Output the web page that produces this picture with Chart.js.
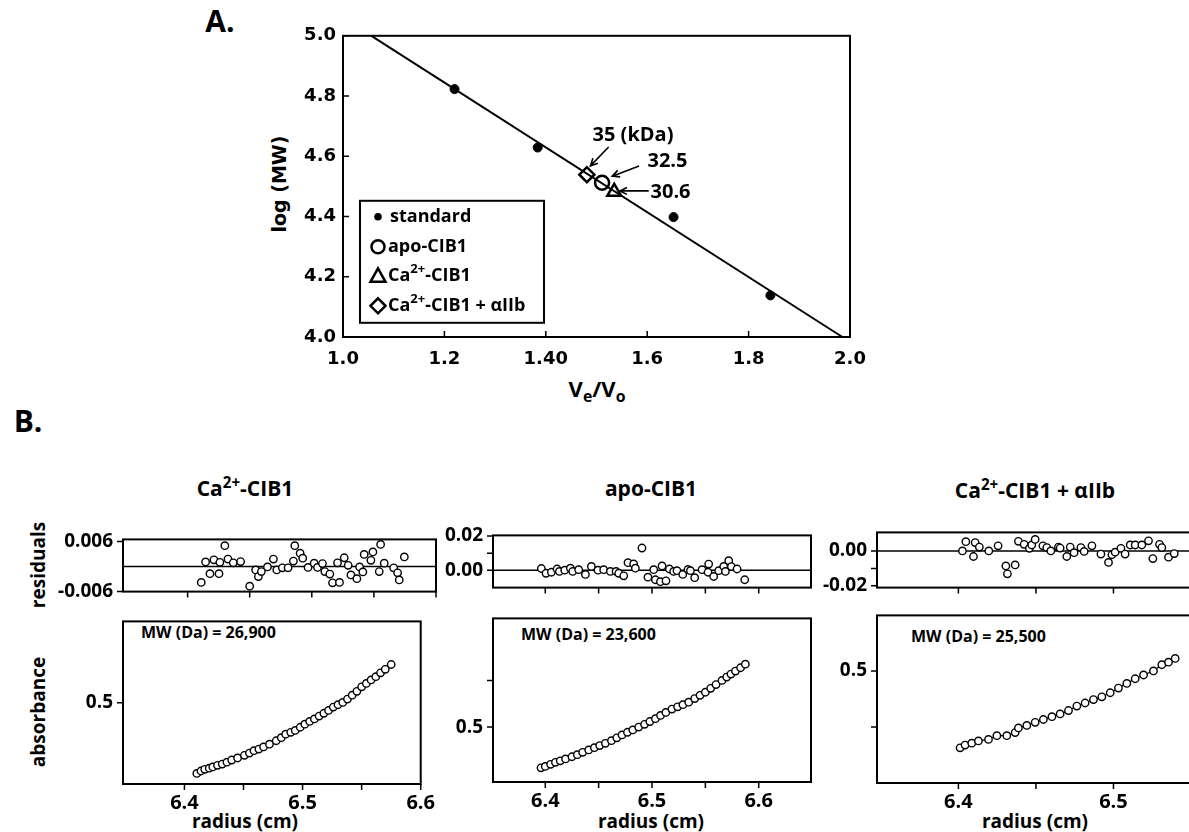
<!DOCTYPE html>
<html lang="en">
<head>
<meta charset="UTF-8">
<title>CIB1 gel filtration and sedimentation equilibrium</title>
<script src="https://cdn.jsdelivr.net/npm/chart.js"></script>
<style>
  html, body { margin: 0; padding: 0; background: #fff; }
  body { width: 1189px; height: 832px; overflow: hidden; position: relative;
         font-family: "Open Sans", sans-serif; font-weight: bold; color: #000; }
  canvas { position: absolute; }
  .txt { position: absolute; white-space: nowrap; transform: translate(-50%, -50%); line-height: 1; }
  .rot { transform: translate(-50%, -50%) rotate(-90deg); }
  .left { transform: translate(0, -50%); }
  sup, sub { font-size: 72%; line-height: 0; }
</style>
</head>
<body>
<div class="txt" style="left:220px;top:21px;font-size:30px">A.</div>
<div class="txt rot" style="left:279px;top:184px;font-size:19px;font-family:'DejaVu Sans'">log (MW)</div>
<div class="txt" style="left:597px;top:388px;font-size:22px">V<sub>e</sub>/V<sub>o</sub></div>
<div class="txt" style="left:28px;top:421px;font-size:30px">B.</div>

<div class="txt" style="left:245px;top:488px;font-size:21px">Ca<sup>2+</sup>-CIB1</div>
<div class="txt" style="left:651px;top:488px;font-size:21px">apo-CIB1</div>
<div class="txt" style="left:1035px;top:490px;font-size:21px">Ca<sup>2+</sup>-CIB1 + &alpha;IIb</div>

<div class="txt rot" style="left:38px;top:565px;font-size:19px">residuals</div>
<div class="txt rot" style="left:38px;top:712px;font-size:19px">absorbance</div>

<div class="txt" style="left:245px;top:821px;font-size:19px">radius (cm)</div>
<div class="txt" style="left:651px;top:821px;font-size:19px">radius (cm)</div>
<div class="txt" style="left:1035px;top:821px;font-size:19px">radius (cm)</div>

<div class="txt left" style="left:141px;top:632px;font-size:16px">MW (Da) = 26,900</div>
<div class="txt left" style="left:521px;top:634px;font-size:16px">MW (Da) = 23,600</div>
<div class="txt left" style="left:911px;top:636px;font-size:16px">MW (Da) = 25,500</div>

<canvas id="chartA"></canvas>
<canvas id="caRes"></canvas>
<canvas id="caAbs"></canvas>
<canvas id="apoRes"></canvas>
<canvas id="apoAbs"></canvas>
<canvas id="cxRes"></canvas>
<canvas id="cxAbs"></canvas>

<script>
// ---------- panel A: gel filtration ----------
const stdVe = [1.22, 1.384, 1.652, 1.843];
const stdLogMw = [4.823, 4.629, 4.398, 4.138];
const apoVe = [1.511];
const apoLogMw = [4.512];
const caVe = [1.535];
const caLogMw = [4.482];
const cxVe = [1.481];
const cxLogMw = [4.539];
const fitVe = [1.056, 1.985];
const fitLogMw = [5.0, 4.0];

const aXTicks = [1.0, 1.2, 1.4, 1.6, 1.8, 2.0];
const aXTickLabels = ['1.0', '1.2', '1.40', '1.6', '1.8', '2.0'];
const aYTicks = [4.0, 4.2, 4.4, 4.6, 4.8, 5.0];
const aYTickLabels = ['4.0', '4.2', '4.4', '4.6', '4.8', '5.0'];

const annoText = ['35 (kDa)', '32.5', '30.6'];
const annoX = [1.572, 1.640, 1.646];
const annoY = [4.669, 4.582, 4.482];
const arrowFromX = [1.524, 1.584, 1.603];
const arrowFromY = [4.631, 4.568, 4.485];
const arrowToX = [1.488, 1.531, 1.546];
const arrowToY = [4.568, 4.534, 4.485];

const legendLabels = [
  [{ t: 'standard' }],
  [{ t: 'apo-CIB1' }],
  [{ t: 'Ca' }, { t: '2+', sup: true }, { t: '-CIB1' }],
  [{ t: 'Ca' }, { t: '2+', sup: true }, { t: '-CIB1 + \u03B1IIb' }]
];
const legendMarkers = ['dot', 'circle', 'triangle', 'diamond'];

// ---------- panel B: sedimentation equilibrium ----------
// Ca2+-CIB1
const caR = [6.4105, 6.414, 6.4172, 6.421, 6.424, 6.428, 6.432, 6.436, 6.440, 6.445, 6.4508, 6.455, 6.4589, 6.463,
  6.467, 6.472, 6.4777, 6.482, 6.4857, 6.490, 6.4938, 6.498, 6.5019, 6.506, 6.510, 6.514, 6.518, 6.522, 6.526,
  6.530, 6.534, 6.538, 6.542, 6.546, 6.550, 6.554, 6.558, 6.562, 6.566, 6.570, 6.575];
const caA = [0.413, 0.416, 0.418, 0.4195, 0.421, 0.423, 0.4245, 0.4268, 0.4295, 0.432, 0.4353, 0.438, 0.441, 0.443,
  0.4456, 0.449, 0.4532, 0.457, 0.4613, 0.4635, 0.4659, 0.4698, 0.4736, 0.477, 0.4801, 0.4835, 0.487, 0.4905, 0.4946,
  0.4975, 0.5003, 0.5045, 0.5092, 0.514, 0.5195, 0.5237, 0.528, 0.532, 0.5368, 0.541, 0.547];
const caResR = [6.411, 6.4145, 6.418, 6.4212, 6.4253, 6.426, 6.430, 6.4325, 6.4368, 6.4427, 6.450, 6.4548, 6.457,
  6.4594, 6.4643, 6.4691, 6.4718, 6.4763, 6.4809, 6.4852, 6.4863, 6.4906, 6.4927, 6.497, 6.5019, 6.5046, 6.5086,
  6.5105, 6.5145, 6.5167, 6.5207, 6.5223, 6.5261, 6.5293, 6.5315, 6.5363, 6.5385, 6.5411, 6.5422, 6.5476, 6.5492,
  6.5543, 6.5554, 6.5583, 6.5659, 6.5691, 6.5704, 6.5745];
const caRes = [-0.0038, 0.0011, -0.0017, 0.0016, -0.0017, 0.0010, 0.0050, 0.0018, 0.0009, 0.0012, -0.0047, -0.0008,
  -0.0024, -0.0012, -0.0001, 0.0018, -0.0008, -0.0003, -0.0003, 0.0013, 0.0050, 0.0032, 0.0020, -0.0002, 0.0008,
  -0.0002, 0.0007, -0.0012, -0.0018, -0.0039, 0.0009, -0.0038, 0.0021, 0.0003, -0.0020, -0.0029, -0.0001, -0.0013,
  0.0029, 0.0015, 0.0035, -0.0012, 0.0053, 0.0008, -0.0003, -0.0015, -0.0032, 0.0023];

// apo-CIB1
const apoR = [6.396, 6.400, 6.405, 6.4095, 6.414, 6.419, 6.425, 6.430, 6.435, 6.4407, 6.446, 6.451, 6.4563, 6.462,
  6.467, 6.4719, 6.477, 6.482, 6.4875, 6.493, 6.498, 6.5032, 6.508, 6.513, 6.5187, 6.524, 6.529, 6.5344, 6.540,
  6.545, 6.550, 6.555, 6.560, 6.5656, 6.570, 6.574, 6.5782, 6.583, 6.5875];
const apoA = [0.413, 0.416, 0.4205, 0.4246, 0.428, 0.432, 0.4366, 0.441, 0.446, 0.4513, 0.456, 0.4605, 0.4653, 0.471,
  0.477, 0.4833, 0.489, 0.494, 0.500, 0.506, 0.512, 0.518, 0.525, 0.5315, 0.5386, 0.5435, 0.548, 0.5533, 0.561,
  0.568, 0.5746, 0.583, 0.591, 0.600, 0.607, 0.6135, 0.620, 0.627, 0.6346];
const apoResR = [6.3963, 6.4007, 6.4057, 6.411, 6.4132, 6.4182, 6.4235, 6.4257, 6.4313, 6.4376, 6.4432, 6.4494,
  6.4547, 6.461, 6.4663, 6.4688, 6.4735, 6.4775, 6.4828, 6.4844, 6.4906, 6.4962, 6.5016, 6.5032, 6.5079, 6.5094,
  6.5131, 6.5163, 6.5203, 6.5234, 6.5288, 6.5337, 6.536, 6.540, 6.5469, 6.5525, 6.5531, 6.5578, 6.5625, 6.5672,
  6.5688, 6.5719, 6.5744, 6.5797, 6.5869];
const apoRes = [0.0010, -0.0018, -0.0012, 0.0007, -0.0007, 0.0000, 0.0012, -0.0007, 0.0003, -0.0025, 0.0022, 0.0000,
  0.0003, -0.0007, -0.0007, -0.0018, -0.0033, 0.0044, 0.0037, 0.0012, 0.0130, -0.0041, 0.0003, -0.0056, -0.0067,
  0.0025, -0.0062, 0.0007, -0.0007, -0.0003, -0.0025, 0.0004, -0.0003, -0.0044, 0.0003, -0.0012, 0.0036, -0.0037,
  -0.0003, 0.0022, -0.0007, 0.0056, 0.0021, 0.0007, -0.0056];

// Ca2+-CIB1 + alphaIIb
const cxR = [6.4011, 6.4043, 6.4086, 6.4129, 6.4194, 6.4248, 6.4312, 6.4366, 6.4387, 6.4441, 6.4495, 6.4548,
  6.4603, 6.4656, 6.471, 6.4764, 6.4817, 6.4871, 6.4925, 6.4979, 6.5032, 6.5086, 6.514, 6.5194, 6.5258, 6.5312,
  6.5355, 6.5398];
const cxA = [0.3627, 0.3677, 0.371, 0.375, 0.3777, 0.3844, 0.3844, 0.390, 0.3983, 0.4027, 0.4083, 0.4133, 0.4183,
  0.4233, 0.4293, 0.4372, 0.4427, 0.4488, 0.4538, 0.461, 0.4693, 0.4777, 0.486, 0.4927, 0.500, 0.511, 0.5155, 0.5222];
const cxResR = [6.4026, 6.4048, 6.4097, 6.4108, 6.4135, 6.4196, 6.4256, 6.4306, 6.4316, 6.4366, 6.4387, 6.4424,
  6.4458, 6.4473, 6.4495, 6.4545, 6.457, 6.4596, 6.4645, 6.4656, 6.4699, 6.4721, 6.4746, 6.479, 6.4811, 6.4861,
  6.4919, 6.4968, 6.499, 6.5011, 6.5048, 6.5075, 6.5108, 6.514, 6.5183, 6.5226, 6.5254, 6.5297, 6.5312, 6.5355,
  6.5392];
const cxRes = [0.0000, 0.0053, -0.0032, 0.0048, 0.0022, 0.0000, 0.0029, -0.0086, -0.0131, -0.0080, 0.0055, 0.0038,
  0.0015, 0.0034, 0.0066, 0.0029, 0.0019, 0.0000, 0.0022, 0.0016, -0.0032, 0.0022, -0.0010, 0.0019, -0.0003, 0.0029,
  -0.0018, -0.0066, -0.0022, -0.0007, 0.0015, -0.0018, 0.0034, 0.0034, 0.0034, 0.0058, -0.0044, 0.0038, 0.0019,
  -0.0036, -0.0015];

// tick values / labels for panel B
const bXTicks = [6.4, 6.45, 6.5, 6.55, 6.6];
const bXTickLabels = ['6.4', '', '6.5', '', '6.6'];
const cxXTicks = [6.4, 6.45, 6.5];
const cxXTickLabels = ['6.4', '', '6.5'];
const caResTicks = [-0.006, 0.006];
const caResTickLabels = ['-0.006', '0.006'];
const apoResTicks = [0, 0.01, 0.02];
const apoResTickLabels = ['0.00', '', '0.02'];
const cxResTicks = [-0.02, -0.01, 0];
const cxResTickLabels = ['-0.02', '', '0.00'];
const caAbsTicks = [0.5];
const apoAbsTicks = [0.5, 0.6];
const apoAbsTickLabels = ['0.5', ''];
const cxAbsTicks = [0.4, 0.5];
const cxAbsTickLabels = ['', '0.5'];

// ---------- helpers ----------
const pts = (xs, ys) => xs.map((x, i) => ({ x, y: ys[i] }));
const fontA = { family: 'DejaVu Sans', size: 18, weight: 'bold' };
const fontB = { family: 'Open Sans', size: 19, weight: 'bold' };

function place(id, box, pad) {
  const c = document.getElementById(id);
  c.width = box.r - box.l + pad.left + pad.right;
  c.height = box.b - box.t + pad.top + pad.bottom;
  c.style.left = (box.l - pad.left) + 'px';
  c.style.top = (box.t - pad.top) + 'px';
  return c;
}

function axis(min, max, tickVals, tickLabels, font, padding) {
  return {
    type: 'linear', min, max,
    grid: { display: false, drawTicks: false },
    border: { display: false },
    afterBuildTicks: s => { s.ticks = tickVals.map(v => ({ value: v })); },
    ticks: {
      display: !!tickLabels, autoSkip: false, maxRotation: 0, padding, font, color: '#000',
      callback: (v, i) => tickLabels ? tickLabels[i] : ''
    }
  };
}

// box outline, tick marks and optional zero line
const frame = {
  id: 'frame',
  beforeDatasetsDraw(chart, args, opts) {
    if (!opts.zero) return;
    const { ctx, chartArea: a } = chart;
    const py = chart.scales.y.getPixelForValue(0);
    ctx.save();
    ctx.strokeStyle = '#000';
    ctx.lineWidth = 1.5;
    ctx.beginPath();
    ctx.moveTo(a.left, py);
    ctx.lineTo(a.right, py);
    ctx.stroke();
    ctx.restore();
  },
  afterDraw(chart, args, opts) {
    const { ctx, chartArea: a } = chart;
    const xs = chart.scales.x, ys = chart.scales.y;
    const dir = opts.inward ? -1 : 1;
    const len = opts.tickLen || 6;
    ctx.save();
    ctx.strokeStyle = '#000';
    ctx.lineWidth = 2;
    ctx.strokeRect(a.left, a.top, a.right - a.left, a.bottom - a.top);
    ctx.lineWidth = 1.5;
    ctx.beginPath();
    xs.ticks.forEach(t => {
      const px = xs.getPixelForValue(t.value);
      ctx.moveTo(px, a.bottom);
      ctx.lineTo(px, a.bottom + dir * len);
    });
    ys.ticks.forEach(t => {
      const py = ys.getPixelForValue(t.value);
      ctx.moveTo(a.left, py);
      ctx.lineTo(a.left - dir * len, py);
    });
    ctx.stroke();
    ctx.restore();
  }
};

function drawRich(ctx, segs, x, y, size) {
  let cx = x;
  segs.forEach(s => {
    const fs = s.sup ? Math.round(size * 0.72) : size;
    ctx.font = 'bold ' + fs + 'px "Open Sans"';
    ctx.fillText(s.t, cx, s.sup ? y - size * 0.36 : y);
    cx += ctx.measureText(s.t).width;
  });
}

function drawMarker(ctx, type, x, y) {
  ctx.beginPath();
  if (type === 'dot') {
    ctx.arc(x, y, 3.8, 0, Math.PI * 2);
    ctx.fillStyle = '#000';
    ctx.fill();
    return;
  }
  if (type === 'circle') ctx.arc(x, y, 6.5, 0, Math.PI * 2);
  if (type === 'triangle') { ctx.moveTo(x, y - 7.5); ctx.lineTo(x + 7.5, y + 6); ctx.lineTo(x - 7.5, y + 6); ctx.closePath(); }
  if (type === 'diamond') { ctx.moveTo(x, y - 7.5); ctx.lineTo(x + 7.5, y); ctx.lineTo(x, y + 7.5); ctx.lineTo(x - 7.5, y); ctx.closePath(); }
  ctx.fillStyle = '#fff';
  ctx.fill();
  ctx.lineWidth = 2.5;
  ctx.strokeStyle = '#000';
  ctx.stroke();
}

// legend and arrow annotations of panel A
const extrasA = {
  id: 'extrasA',
  afterDraw(chart) {
    const { ctx, chartArea: a } = chart;
    const xs = chart.scales.x, ys = chart.scales.y;
    ctx.save();
    const bx = a.left + 17, by = a.top + 165, bw = 184, bh = 122;
    ctx.lineWidth = 2;
    ctx.strokeStyle = '#000';
    ctx.strokeRect(bx, by, bw, bh);
    const rowY = [16, 46, 75, 105];
    ctx.textBaseline = 'middle';
    legendLabels.forEach((segs, i) => {
      drawMarker(ctx, legendMarkers[i], bx + 18, by + rowY[i]);
      ctx.fillStyle = '#000';
      drawRich(ctx, segs, bx + (i === 0 ? 30 : 28), by + rowY[i], 18);
    });

    ctx.fillStyle = '#000';
    ctx.font = 'bold 20px "Open Sans"';
    ctx.textAlign = 'center';
    annoText.forEach((t, i) => ctx.fillText(t, xs.getPixelForValue(annoX[i]), ys.getPixelForValue(annoY[i])));

    ctx.lineWidth = 1.6;
    annoText.forEach((t, i) => {
      const x0 = xs.getPixelForValue(arrowFromX[i]), y0 = ys.getPixelForValue(arrowFromY[i]);
      const x1 = xs.getPixelForValue(arrowToX[i]), y1 = ys.getPixelForValue(arrowToY[i]);
      const ang = Math.atan2(y1 - y0, x1 - x0);
      ctx.beginPath();
      ctx.moveTo(x0, y0);
      ctx.lineTo(x1, y1);
      ctx.moveTo(x1 - 8 * Math.cos(ang - 0.45), y1 - 8 * Math.sin(ang - 0.45));
      ctx.lineTo(x1, y1);
      ctx.lineTo(x1 - 8 * Math.cos(ang + 0.45), y1 - 8 * Math.sin(ang + 0.45));
      ctx.stroke();
    });
    ctx.restore();
  }
};

function build(id, box, pad, xCfg, yCfg, datasets, frameOpts, extra) {
  const c = place(id, box, pad);
  xCfg.afterFit = s => { s.height = pad.bottom; };
  yCfg.afterFit = s => { s.width = pad.left; };
  return new Chart(c, {
    type: 'scatter',
    data: { datasets },
    options: {
      responsive: false,
      animation: false,
      layout: { padding: { top: pad.top, right: pad.right, left: 0, bottom: 0 } },
      plugins: { legend: { display: false }, tooltip: { enabled: false }, frame: frameOpts },
      scales: { x: xCfg, y: yCfg }
    },
    plugins: extra ? [frame, extra] : [frame]
  });
}

// ---------- panel A chart ----------
build('chartA', { l: 343, t: 32, r: 850, b: 337 }, { left: 70, top: 14, right: 30, bottom: 40 },
  axis(1.0, 2.0, aXTicks, aXTickLabels, fontA, 12),
  axis(4.0, 5.0, aYTicks, aYTickLabels, fontA, 7),
  [
    { data: pts(fitVe, fitLogMw), showLine: true, borderColor: '#000', borderWidth: 2, pointRadius: 0, clip: false },
    { data: pts(stdVe, stdLogMw), pointRadius: 4.5, backgroundColor: '#000', borderColor: '#000' },
    { data: pts(cxVe, cxLogMw), pointStyle: 'rectRot', pointRadius: 7.5, borderWidth: 2.5, backgroundColor: '#fff', borderColor: '#000' },
    { data: pts(apoVe, apoLogMw), pointStyle: 'circle', pointRadius: 7, borderWidth: 2.5, backgroundColor: '#fff', borderColor: '#000' },
    { data: pts(caVe, caLogMw), pointStyle: 'triangle', pointRadius: 8, borderWidth: 2.5, backgroundColor: '#fff', borderColor: '#000' }
  ],
  { inward: true, tickLen: 6 }, extrasA);

// ---------- panel B charts ----------
const openPt = { pointRadius: 3.7, pointBorderWidth: 1.4, pointBackgroundColor: '#fff', pointBorderColor: '#000', clip: false };

function residual(id, box, padLeft, xMin, xMax, xTicks, rs, vals, yMin, yMax, yTicks, yLabels) {
  build(id, box, { left: padLeft, top: 14, right: 6, bottom: 12 },
    axis(xMin, xMax, xTicks, null, fontB, 8),
    axis(yMin, yMax, yTicks, yLabels, fontB, 10),
    [Object.assign({ data: pts(rs, vals), showLine: false }, openPt)],
    { zero: true, tickLen: 6 });
}

function absorb(id, box, padLeft, xMin, xMax, xTicks, xLabels, rs, vals, yMin, yMax, yTicks, yLabels) {
  build(id, box, { left: padLeft, top: 10, right: 6, bottom: 32 },
    axis(xMin, xMax, xTicks, xLabels, { family: 'Open Sans', size: 20, weight: 'bold' }, 7),
    axis(yMin, yMax, yTicks, yLabels, fontB, 10),
    [Object.assign({ data: pts(rs, vals), showLine: true, borderColor: '#000', borderWidth: 1.2 }, openPt)],
    { tickLen: 6 });
}

residual('caRes', { l: 123, t: 532, r: 436, b: 601 }, 110, 6.348, 6.6, bXTicks, caResR, caRes,
  -0.006, 0.0065, caResTicks, caResTickLabels);
absorb('caAbs', { l: 123, t: 610, r: 436, b: 784 }, 110, 6.348, 6.6, bXTicks, bXTickLabels, caR, caA,
  0.4, 0.6, caAbsTicks, ['0.5']);

residual('apoRes', { l: 493, t: 528, r: 811, b: 597 }, 80, 6.351, 6.649, bXTicks, apoResR, apoRes,
  -0.0102, 0.0204, apoResTicks, apoResTickLabels);
absorb('apoAbs', { l: 493, t: 607, r: 811, b: 782 }, 80, 6.351, 6.649, bXTicks, bXTickLabels, apoR, apoA,
  0.3826, 0.7326, apoAbsTicks, apoAbsTickLabels);

residual('cxRes', { l: 877, t: 525, r: 1191, b: 597 }, 90, 6.3475, 6.55, cxXTicks, cxResR, cxRes,
  -0.021, 0.0106, cxResTicks, cxResTickLabels);
absorb('cxAbs', { l: 877, t: 604, r: 1191, b: 783 }, 90, 6.3475, 6.55, cxXTicks, cxXTickLabels, cxR, cxA,
  0.3, 0.599, cxAbsTicks, cxAbsTickLabels);
</script>
</body>
</html>
